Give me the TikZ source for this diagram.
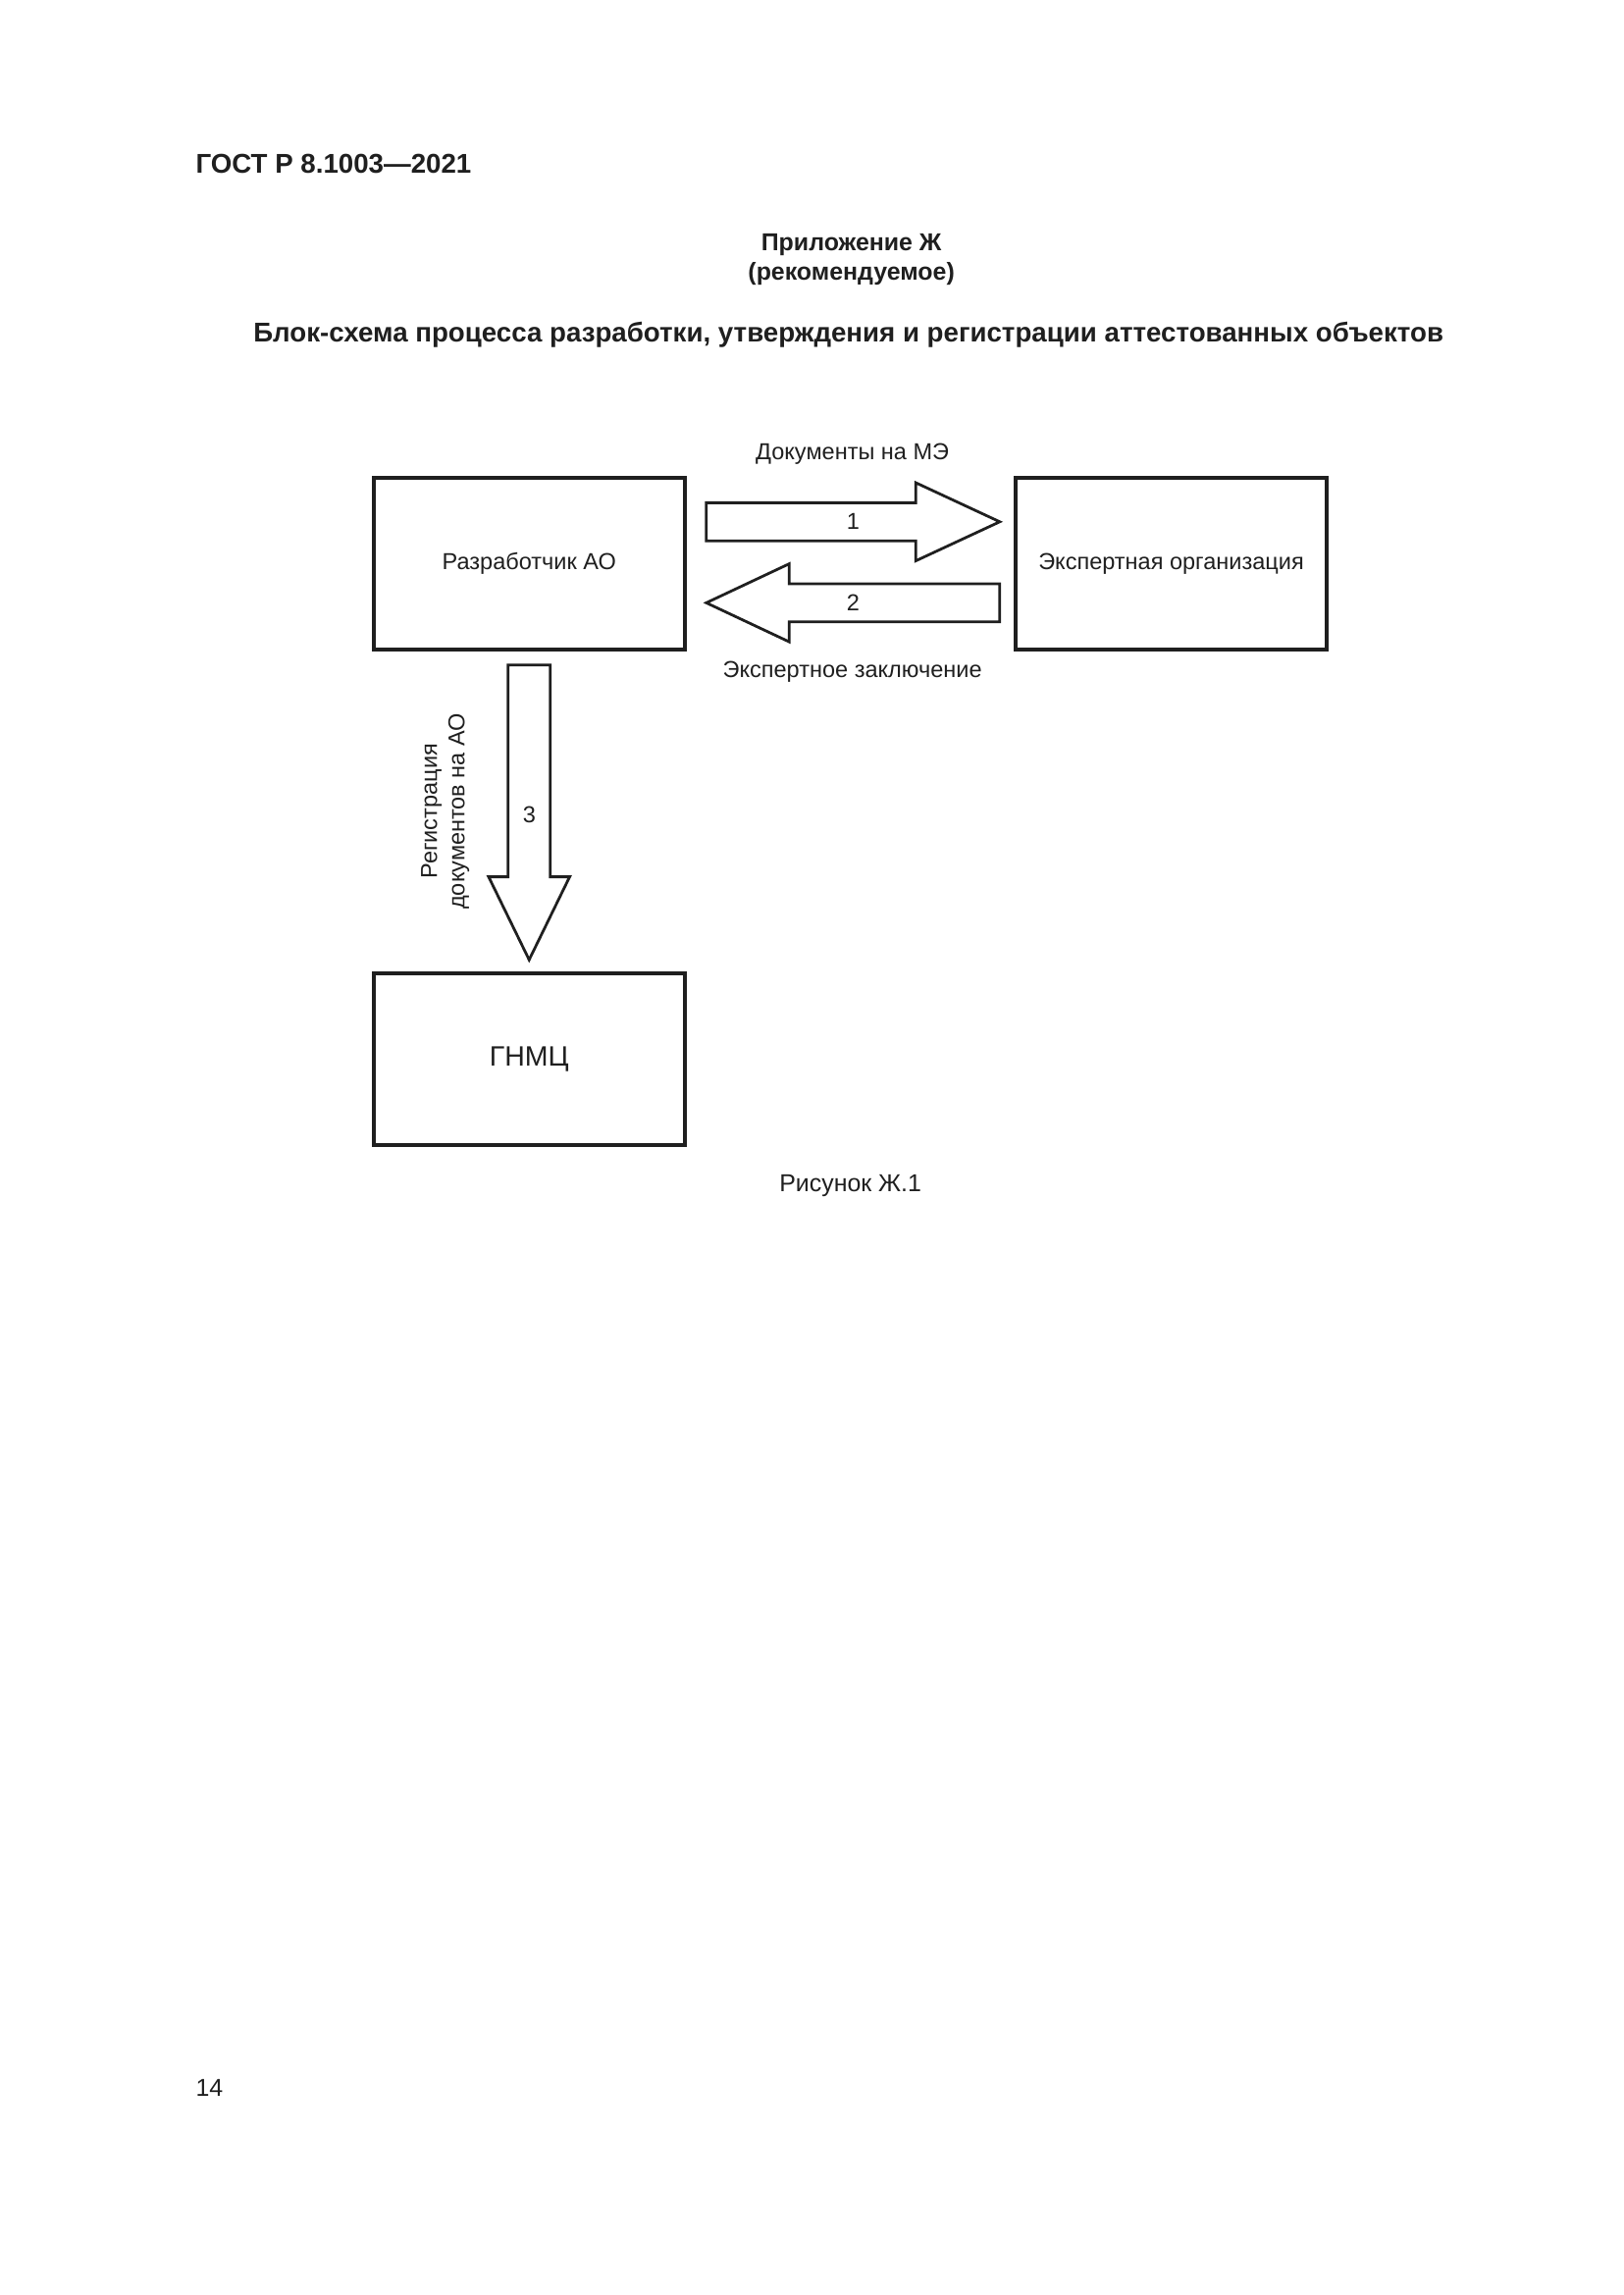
\documentclass[tikz,border=0pt]{standalone}
\usepackage{fontspec}
\setmainfont{Liberation Sans}
\usetikzlibrary{calc}
\tikzset{
  box/.style={draw, line width=1.4pt, minimum width=40.3mm, minimum height=22.2mm,
    font=\fontsize{8.5}{10}\selectfont},
  fatarrow/.style={draw, line width=1pt, line join=miter},
  lbl/.style={font=\fontsize{8.5}{10.2}\selectfont, inner sep=0pt},
  head/.style={font=\bfseries\fontsize{10}{12}\selectfont, inner sep=0pt}
}
\begin{document}
\begin{tikzpicture}[x=0.126965mm, y=-0.126965mm, color=black!88]
  \useasboundingbox (0,0) rectangle (1654,2339);
  \begin{scope}[scale=0.995]
  % page head
  \node[head, anchor=west] (gost) at (200,168) {ГОСТ Р 8.1003—2021};
  \node[head, font=\bfseries\fontsize{9}{11}\selectfont] (app) at (872,251) {Приложение Ж};
  \node[head, font=\bfseries\fontsize{9}{11}\selectfont] (rec) at (872,280) {(рекомендуемое)};
  \node[head] (title) at (869,343)
    {Блок-схема процесса разработки, утверждения и регистрации аттестованных объектов};

  % blocks
  \node[box] (dev) at (542,577.5) {Разработчик АО};
  \node[box] (expert) at (1199.5,577.5) {Экспертная организация};
  \node[box, font=\fontsize{10.3}{12}\selectfont] (gnmc) at (542,1085) {ГНМЦ};

  % arrow 1
  \coordinate (t1) at ($(dev.east)+(20,-43)$);
  \coordinate (h1) at ($(expert.west)+(-14,-43)$);
  \draw[fatarrow] ($(t1)+(0,-19.5)$) -- ($(h1)+(-86,-19.5)$) -- ($(h1)+(-86,-40)$)
    -- (h1) -- ($(h1)+(-86,40)$) -- ($(h1)+(-86,19.5)$) -- ($(t1)+(0,19.5)$) -- cycle;
  \node[lbl] (n1) at ($(t1)!0.5!(h1)$) {1};

  % arrow 2
  \coordinate (t2) at ($(expert.west)+(-14,40)$);
  \coordinate (h2) at ($(dev.east)+(20,40)$);
  \draw[fatarrow] ($(t2)+(0,-19.5)$) -- ($(h2)+(85,-19.5)$) -- ($(h2)+(85,-40)$)
    -- (h2) -- ($(h2)+(85,40)$) -- ($(h2)+(85,19.5)$) -- ($(t2)+(0,19.5)$) -- cycle;
  \node[lbl] (n2) at ($(t2)!0.5!(h2)$) {2};

  % arrow 3
  \coordinate (t3) at ($(dev.south)+(0,14)$);
  \coordinate (h3) at ($(gnmc.north)+(0,-12)$);
  \draw[fatarrow] ($(t3)+(-21.5,0)$) -- ($(h3)+(-21.5,-85)$) -- ($(h3)+(-41.5,-85)$)
    -- (h3) -- ($(h3)+(41.5,-85)$) -- ($(h3)+(21.5,-85)$) -- ($(t3)+(21.5,0)$) -- cycle;
  \node[lbl] (n3) at (542,835) {3};

  % arrow texts
  \node[lbl] (docs) at (873,465) {Документы на МЭ};
  \node[lbl] (concl) at (873,688) {Экспертное заключение};
  \node[lbl, rotate=90, align=center] (reg) at (456,831) {Регистрация\\документов на АО};

  % caption and page number
  \node[lbl, font=\fontsize{9}{10.4}\selectfont] (fig) at (871,1215) {Рисунок Ж.1};
  \node[lbl, font=\fontsize{9}{10.4}\selectfont, anchor=west] (page) at (200,2139) {14};
  \end{scope}
\end{tikzpicture}
\end{document}
